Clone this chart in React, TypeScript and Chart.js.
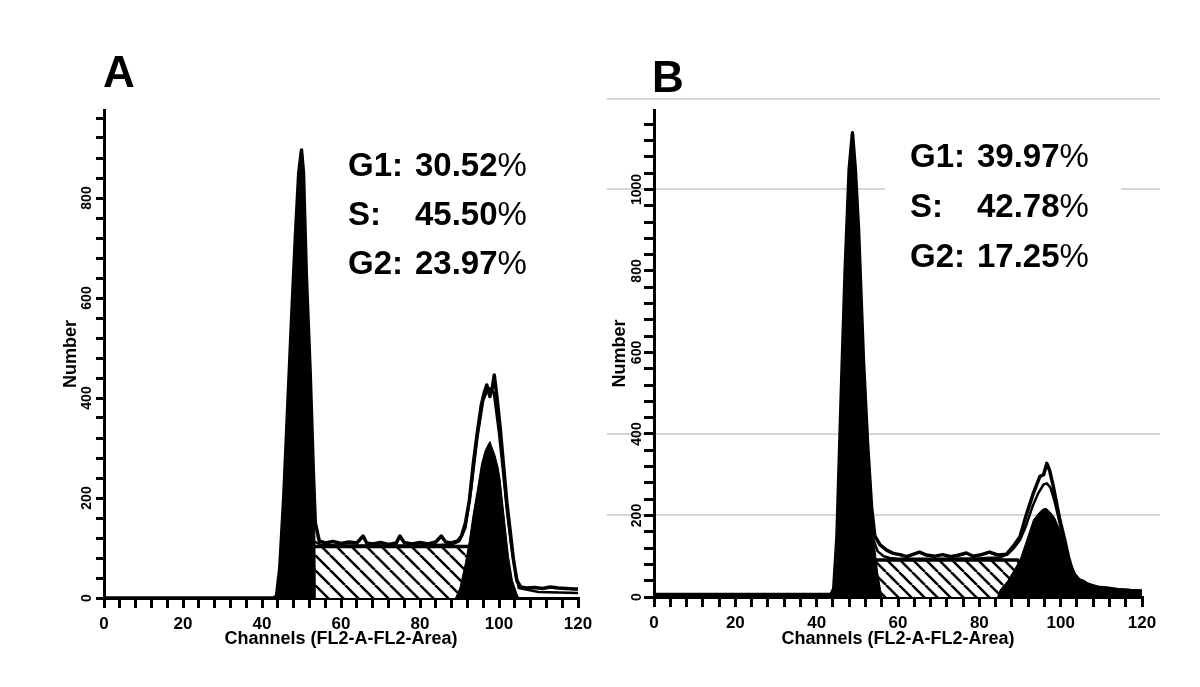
import React, { useEffect, useRef } from 'react';
import { Chart, registerables } from 'chart.js';

Chart.register(...registerables);

// ---------------- Panel A data ----------------
const rawAX = [0, 43, 43.7, 44.5, 45.5, 46.5, 47.5, 48.5, 49.3, 50.0, 50.5, 51.2, 52.2, 53.0, 53.5, 54.5, 56, 58, 60, 62, 64, 65.6, 66.5, 68, 70, 72, 74, 74.9, 76, 78, 80, 82, 84, 85.4, 86.5, 88, 89.5, 90.5, 91.5, 92.5, 93.5, 94.5, 95.5, 96.3, 96.9, 97.7, 98.3, 98.8, 99.5, 100.3, 101.1, 102, 102.8, 103.6, 104.5, 105.5, 107, 109, 111, 113, 115, 117, 119, 120];
const rawAY = [0, 0, 5, 60, 200, 380, 560, 730, 850, 896, 850, 650, 450, 250, 150, 114, 110, 113, 109, 112, 110, 124, 110, 108, 111, 107, 110, 124, 111, 108, 111, 108, 112, 124, 112, 110, 114, 124, 150, 195, 269, 330, 385, 412, 426, 403, 420, 446, 400, 340, 269, 190, 136, 80, 35, 22, 20, 21, 19, 22, 20, 19, 18, 18];
const modelAX = [53.5, 55, 60, 70, 80, 88, 90, 91.5, 93, 94.5, 96, 97.3, 98, 98.7, 100, 101, 102, 103, 104, 105, 110, 120];
const modelAY = [112, 106, 105, 105, 105, 107, 114, 140, 220, 320, 395, 420, 418, 410, 330, 255, 175, 110, 60, 20, 12, 10];
const g1AX = [43.5, 44.5, 45.5, 46.5, 47.5, 48.5, 49.3, 50.0, 50.5, 51.2, 52.2, 53.0, 53.4, 53.5];
const g1AY = [0, 55, 195, 375, 555, 725, 845, 890, 845, 645, 445, 245, 120, 0];
const g2AX = [89.0, 90.1, 91.5, 92.5, 93.5, 94.5, 95.6, 96.5, 97.2, 97.7, 98.3, 99.0, 99.8, 100.3, 101.2, 102.4, 103.4, 104.5, 105];
const g2AY = [0, 20, 70, 115, 169, 215, 269, 295, 306, 313, 300, 285, 260, 236, 170, 83, 35, 9, 0];
const sAX = [50, 50.1, 92.5, 93.5, 94];
const sAY = [0, 103, 103, 60, 0];
const markAX = [49.3, 98.1];
const markAY = [-20, -20];
const statLabelsA = ['G1:', 'S:', 'G2:'];
const statValuesA = ['30.52', '45.50', '23.97'];

// ---------------- Panel B data ----------------
const rawBX = [0, 43.5, 44.2, 45, 46, 47, 48, 48.8, 49.5, 50.3, 51.5, 52.5, 53.5, 54.3, 55.6, 57.2, 58.8, 60.5, 62.1, 63.5, 65.3, 67, 69, 71, 73, 75, 76.8, 78.5, 80.5, 82.5, 84.5, 86.7, 88.3, 90, 91.5, 93.3, 94.9, 95.8, 96.6, 97.3, 98.2, 99.8, 101, 101.9, 103, 104.5, 105.6, 107, 109, 111.3, 114, 117, 120];
const rawBY = [6, 6, 20, 150, 480, 800, 1050, 1139, 1050, 900, 580, 380, 220, 150, 128, 115, 107, 104, 99, 104, 110, 103, 100, 104, 99, 103, 108, 100, 104, 110, 103, 105, 124, 148, 200, 255, 296, 300, 328, 310, 271, 189, 140, 99, 60, 42, 38, 28, 24, 22, 18, 16, 15];
const modelBX = [54, 55, 56.5, 58, 60, 70, 80, 85, 87, 88.5, 90, 91.5, 93, 94.5, 95.8, 96.6, 97.5, 98.5, 99.8, 101, 102, 103.5, 105, 110, 120];
const modelBY = [140, 112, 100, 96, 94, 94, 95, 97, 105, 120, 140, 175, 220, 255, 276, 279, 268, 235, 180, 125, 90, 55, 38, 22, 15];
const g1BX = [43.8, 44.5, 45, 46, 47, 48, 48.8, 49.5, 50.3, 51.5, 52.5, 53.5, 54.3, 55, 56];
const g1BY = [0, 40, 140, 470, 790, 1040, 1130, 1040, 890, 570, 370, 210, 120, 60, 0];
const g2BX = [84.5, 85.1, 87, 88.5, 90, 91.5, 93.3, 94.5, 95.5, 96.4, 97.3, 98.5, 99.8, 101, 102, 103.1, 104.2, 105.6, 107, 108, 110, 111.3, 113, 115, 117, 120, 120];
const g2BY = [0, 17, 40, 65, 91, 135, 189, 205, 215, 218, 210, 195, 165, 120, 85, 58, 45, 38, 30, 25, 24, 22, 18, 17, 16, 15, 0];
const sBX = [52, 52.1, 89.5, 91, 92];
const sBY = [0, 91, 91, 50, 0];
const markBX = [48.4, 96.4];
const markBY = [-27, -27];
const grayLinesB = [200, 400, 1000, 1222];
const statLabelsB = ['G1:', 'S:', 'G2:'];
const statValuesB = ['39.97', '42.78', '17.25'];

const xTitle = 'Channels (FL2-A-FL2-Area)';
const yTitle = 'Number';

const SANS = "'Liberation Sans', Arial, Helvetica, sans-serif";

const pts = (xs: number[], ys: number[]) => xs.map((x, i) => ({ x, y: ys[i] }));

function makeHatch(size: number, lw: number) {
  const c = document.createElement('canvas');
  c.width = size;
  c.height = size;
  const g = c.getContext('2d')!;
  g.fillStyle = '#fff';
  g.fillRect(0, 0, size, size);
  g.strokeStyle = '#000';
  g.lineWidth = lw;
  g.beginPath();
  for (const k of [-size, 0, size]) {
    g.moveTo(k, 0);
    g.lineTo(k + size, size);
  }
  g.stroke();
  return g.createPattern(c, 'repeat');
}

const overlayPlugin = {
  id: 'overlay',
  beforeDraw(chart: any, _a: any, o: any) {
    const ctx = chart.ctx;
    ctx.save();
    ctx.fillStyle = '#fff';
    ctx.fillRect(0, 0, chart.width, chart.height);
    if (o.grayLines) {
      const ys = chart.scales.y;
      ctx.strokeStyle = '#d6d6d6';
      ctx.lineWidth = 2;
      for (const v of o.grayLines) {
        const py = Math.round(ys.getPixelForValue(v));
        ctx.beginPath();
        ctx.moveTo(o.grayFrom, py);
        ctx.lineTo(o.grayTo, py);
        ctx.stroke();
      }
    }
    if (o.box) {
      ctx.fillStyle = '#fff';
      ctx.fillRect(o.box[0], o.box[1], o.box[2], o.box[3]);
    }
    ctx.restore();
  },
  afterDraw(chart: any, _a: any, o: any) {
    const ctx = chart.ctx;
    ctx.save();
    ctx.fillStyle = '#000';
    ctx.textBaseline = 'alphabetic';
    ctx.textAlign = 'left';
    ctx.font = `bold 44px ${SANS}`;
    ctx.fillText(o.letter, o.letterX, o.letterY);
    o.labels.forEach((lab: string, i: number) => {
      const y = o.statY[i];
      ctx.font = `bold 33px ${SANS}`;
      ctx.fillText(lab, o.labelX, y);
      ctx.fillText(o.values[i], o.valueX, y);
      const w = ctx.measureText(o.values[i]).width;
      ctx.font = `33px ${SANS}`;
      ctx.fillText('%', o.valueX + w, y);
    });
    ctx.restore();
  },
};

type Spec = {
  raw: [number[], number[]];
  model: [number[], number[]];
  g1: [number[], number[]];
  g2: [number[], number[]];
  s: [number[], number[]];
  marks: [number[], number[]];
  markR: number;
  yMax: number;
  yW: number;
  xH: number;
  pad: { left: number; right: number; top: number; bottom: number };
  yTickLen: number;
  yTickPad: number;
  xTickLen: number;
  xTickPad: number;
  yTitlePad: number;
  hatch: number;
  overlay: any;
};

const specA: Spec = {
  raw: [rawAX, rawAY],
  model: [modelAX, modelAY],
  g1: [g1AX, g1AY],
  g2: [g2AX, g2AY],
  s: [sAX, sAY],
  marks: [markAX, markAY],
  markR: 9,
  yMax: 976,
  yW: 48,
  xH: 52,
  pad: { left: 56, right: 22, top: 110, bottom: 37 },
  yTickLen: 8,
  yTickPad: -3,
  xTickLen: 10,
  xTickPad: 6,
  yTitlePad: 4,
  hatch: 15,
  overlay: {
    letter: 'A', letterX: 103, letterY: 87,
    labels: statLabelsA, values: statValuesA,
    labelX: 348, valueX: 415, statY: [176, 225, 274],
  },
};

const specB: Spec = {
  raw: [rawBX, rawBY],
  model: [modelBX, modelBY],
  g1: [g1BX, g1BY],
  g2: [g2BX, g2BY],
  s: [sBX, sBY],
  marks: [markBX, markBY],
  markR: 10,
  yMax: 1195,
  yW: 46,
  xH: 53,
  pad: { left: 8, right: 58, top: 110, bottom: 37 },
  yTickLen: 10,
  yTickPad: -9,
  xTickLen: 10,
  xTickPad: 6,
  yTitlePad: 1,
  hatch: 13,
  overlay: {
    letter: 'B', letterX: 52, letterY: 92,
    labels: statLabelsB, values: statValuesB,
    labelX: 310, valueX: 377, statY: [167, 217, 267],
    grayLines: grayLinesB, grayFrom: 7, grayTo: 560,
    box: [285, 130, 236, 150],
  },
};

function buildConfig(p: Spec): any {
  const hatch = makeHatch(p.hatch, 2.5);
  const line = { pointRadius: 0, tension: 0, borderColor: '#000', borderJoinStyle: 'round', borderCapStyle: 'round' };
  return {
    type: 'line',
    data: {
      datasets: [
        {
          label: 'markers', data: pts(p.marks[0], p.marks[1]), showLine: false,
          pointStyle: 'triangle', pointRadius: p.markR, pointBackgroundColor: '#000',
          pointBorderColor: '#000', pointBorderWidth: 1, clip: false,
        },
        { label: 'raw', data: pts(p.raw[0], p.raw[1]), ...line, borderWidth: 3.5, fill: false },
        { label: 'model', data: pts(p.model[0], p.model[1]), ...line, borderWidth: 2.5, fill: false },
        { label: 'G1', data: pts(p.g1[0], p.g1[1]), ...line, borderWidth: 1, fill: 'origin', backgroundColor: '#000' },
        { label: 'G2', data: pts(p.g2[0], p.g2[1]), ...line, borderWidth: 1, fill: 'origin', backgroundColor: '#000' },
        { label: 'S', data: pts(p.s[0], p.s[1]), ...line, borderWidth: 3.5, fill: 'origin', backgroundColor: hatch },
      ],
    },
    options: {
      responsive: false,
      animation: false,
      devicePixelRatio: 1,
      events: [],
      layout: { padding: p.pad },
      plugins: {
        legend: { display: false },
        tooltip: { enabled: false },
        overlay: p.overlay,
      },
      scales: {
        x: {
          type: 'linear', min: 0, max: 120,
          afterFit: (s: any) => { s.height = p.xH; },
          border: { display: true, color: '#000', width: 3 },
          grid: {
            display: true, drawOnChartArea: false, drawTicks: true,
            tickLength: p.xTickLen, color: '#000', tickColor: '#000', lineWidth: 3, tickWidth: 3,
          },
          ticks: {
            stepSize: 4, autoSkip: false, minRotation: 0, maxRotation: 0, includeBounds: false,
            padding: p.xTickPad, color: '#000',
            font: { family: SANS, size: 17, weight: 'bold' },
            callback: (v: number) => (v % 20 === 0 ? String(v) : ''),
          },
          title: {
            display: true, text: xTitle, color: '#000',
            font: { family: SANS, size: 18, weight: 'bold' },
            padding: { top: 0, bottom: 0 },
          },
        },
        y: {
          type: 'linear', min: 0, max: p.yMax,
          afterFit: (s: any) => { s.width = p.yW; },
          border: { display: true, color: '#000', width: 3 },
          grid: {
            display: true, drawOnChartArea: false, drawTicks: true,
            tickLength: p.yTickLen, color: '#000', tickColor: '#000', lineWidth: 3, tickWidth: 3,
          },
          ticks: {
            stepSize: 40, autoSkip: false, minRotation: 90, maxRotation: 90, includeBounds: false,
            crossAlign: 'center', padding: p.yTickPad, color: '#000',
            font: { family: SANS, size: 14, weight: 'bold' },
            callback: (v: number) => (v % 200 === 0 ? String(v) : ''),
          },
          title: {
            display: true, text: yTitle, color: '#000',
            font: { family: SANS, size: 18, weight: 'bold' },
            padding: { top: p.yTitlePad, bottom: 0 },
          },
        },
      },
    },
    plugins: [overlayPlugin],
  };
}

function Panel({ spec, left }: { spec: Spec; left: number }) {
  const ref = useRef<HTMLCanvasElement>(null);
  useEffect(() => {
    const chart = new Chart(ref.current!, buildConfig(spec));
    return () => chart.destroy();
  }, [spec]);
  return (
    <canvas
      ref={ref}
      width={600}
      height={687}
      style={{ position: 'absolute', left, top: 0, width: 600, height: 687 }}
    />
  );
}

export default function App() {
  return (
    <div style={{ position: 'absolute', left: 0, top: 0, width: 1200, height: 687, background: '#fff', overflow: 'hidden' }}>
      <Panel spec={specA} left={0} />
      <Panel spec={specB} left={600} />
    </div>
  );
}
